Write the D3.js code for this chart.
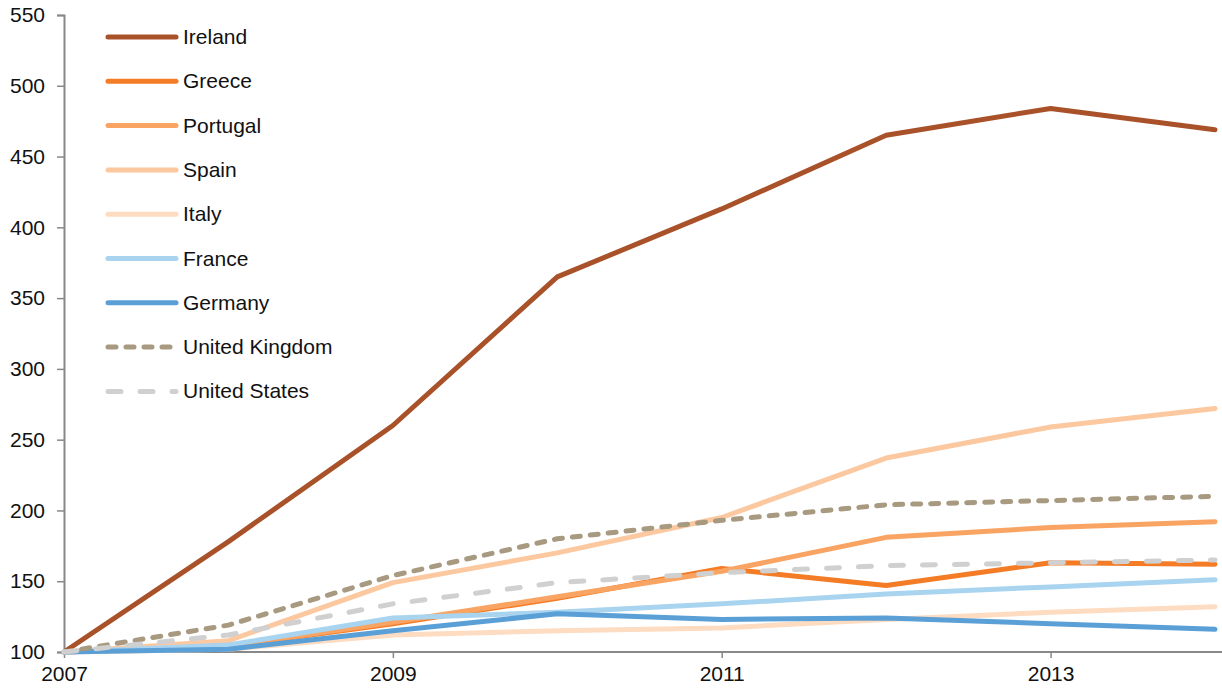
<!DOCTYPE html>
<html><head><meta charset="utf-8">
<script src="https://cdn.jsdelivr.net/npm/d3@7"></script>
<style>
body{margin:0;background:#fff;}
text{font-family:"Liberation Sans",Arial,sans-serif;}
</style></head>
<body><svg id="c" width="1222" height="694"></svg>
<script>
const years = [2007, 2008, 2009, 2010, 2011, 2012, 2013, 2014];
const xTickYears = [2007, 2009, 2011, 2013];
const yTicks = [100, 150, 200, 250, 300, 350, 400, 450, 500, 550];
const seriesNames = ["Ireland","Greece","Portugal","Spain","Italy","France","Germany","United Kingdom","United States"];
const ireland  = [100, 178, 260, 365, 413, 465, 484, 469];
const greece   = [100, 104, 120, 138, 159, 147, 163, 162];
const portugal = [100, 104, 121, 139, 157, 181, 188, 192];
const spain    = [100, 108, 149, 170, 195, 237, 259, 272];
const italy    = [100, 102, 112, 115, 117, 123, 128, 132];
const france   = [100, 105, 124, 128, 134, 141, 146, 151];
const germany  = [100, 102, 115, 127, 123, 124, 120, 116];
const uk       = [100, 119, 154, 180, 193, 204, 207, 210];
const us       = [100, 112, 134, 149, 156, 161, 163, 165];
const seriesValues = [ireland, greece, portugal, spain, italy, france, germany, uk, us];
const colors = ["#a9522a","#f47c26","#f9a462","#fcc8a0","#fddcc2","#a9d4f0","#5a9fd6","#a89a80","#d0d0d0"];
const dashes = [null,null,null,null,null,null,null,"8,10","13,19"];

const svg = d3.select("#c");
const x = d3.scaleLinear().domain([2007, 2014]).range([64, 1215]);
const y = d3.scaleLinear().domain([100, 550]).range([652, 15]);
const axisColor = "#888888";
const FS = 21;

// y axis
const ya = svg.append("g").attr("transform","translate(64,0)")
  .call(d3.axisLeft(y).tickValues(yTicks).tickSize(7).tickPadding(12).tickFormat(d3.format("d")));
ya.select(".domain").attr("stroke",axisColor).attr("stroke-width",2);
ya.selectAll(".tick line").attr("stroke",axisColor).attr("stroke-width",1.5);
ya.selectAll(".tick text").attr("font-size",FS).attr("fill","#111").attr("font-family","Liberation Sans, Arial, sans-serif");

// x axis
const xa = svg.append("g").attr("transform","translate(0,652)")
  .call(d3.axisBottom(x).tickValues(xTickYears).tickSize(6).tickPadding(8).tickFormat(d3.format("d")).tickSizeOuter(0));
xa.select(".domain").attr("stroke",axisColor).attr("stroke-width",2).attr("d","M64,0H1222");
xa.selectAll(".tick line").attr("stroke",axisColor).attr("stroke-width",1.5);
xa.selectAll(".tick text").attr("font-size",FS).attr("fill","#111").attr("font-family","Liberation Sans, Arial, sans-serif");

const line = d3.line().x((d,i)=>x(years[i])).y(d=>y(d));
seriesValues.forEach((vals,k)=>{
  const p = svg.append("path").datum(vals).attr("d",line)
    .attr("fill","none").attr("stroke",colors[k]).attr("stroke-width",5)
    .attr("stroke-linecap","round").attr("stroke-linejoin","round");
  if (dashes[k]) p.attr("stroke-dasharray",dashes[k]);
});

// legend
const lg = svg.append("g");
seriesNames.forEach((n,k)=>{
  const yy = 37 + k*44.3;
  const l = lg.append("line").attr("x1",108).attr("x2",176).attr("y1",yy).attr("y2",yy)
    .attr("stroke",colors[k]).attr("stroke-width",5).attr("stroke-linecap","round");
  if (dashes[k]) l.attr("stroke-dasharray",dashes[k]);
  lg.append("text").attr("x",183).attr("y",yy+7).attr("font-size",FS).attr("fill","#111").text(n);
});
</script></body></html>
